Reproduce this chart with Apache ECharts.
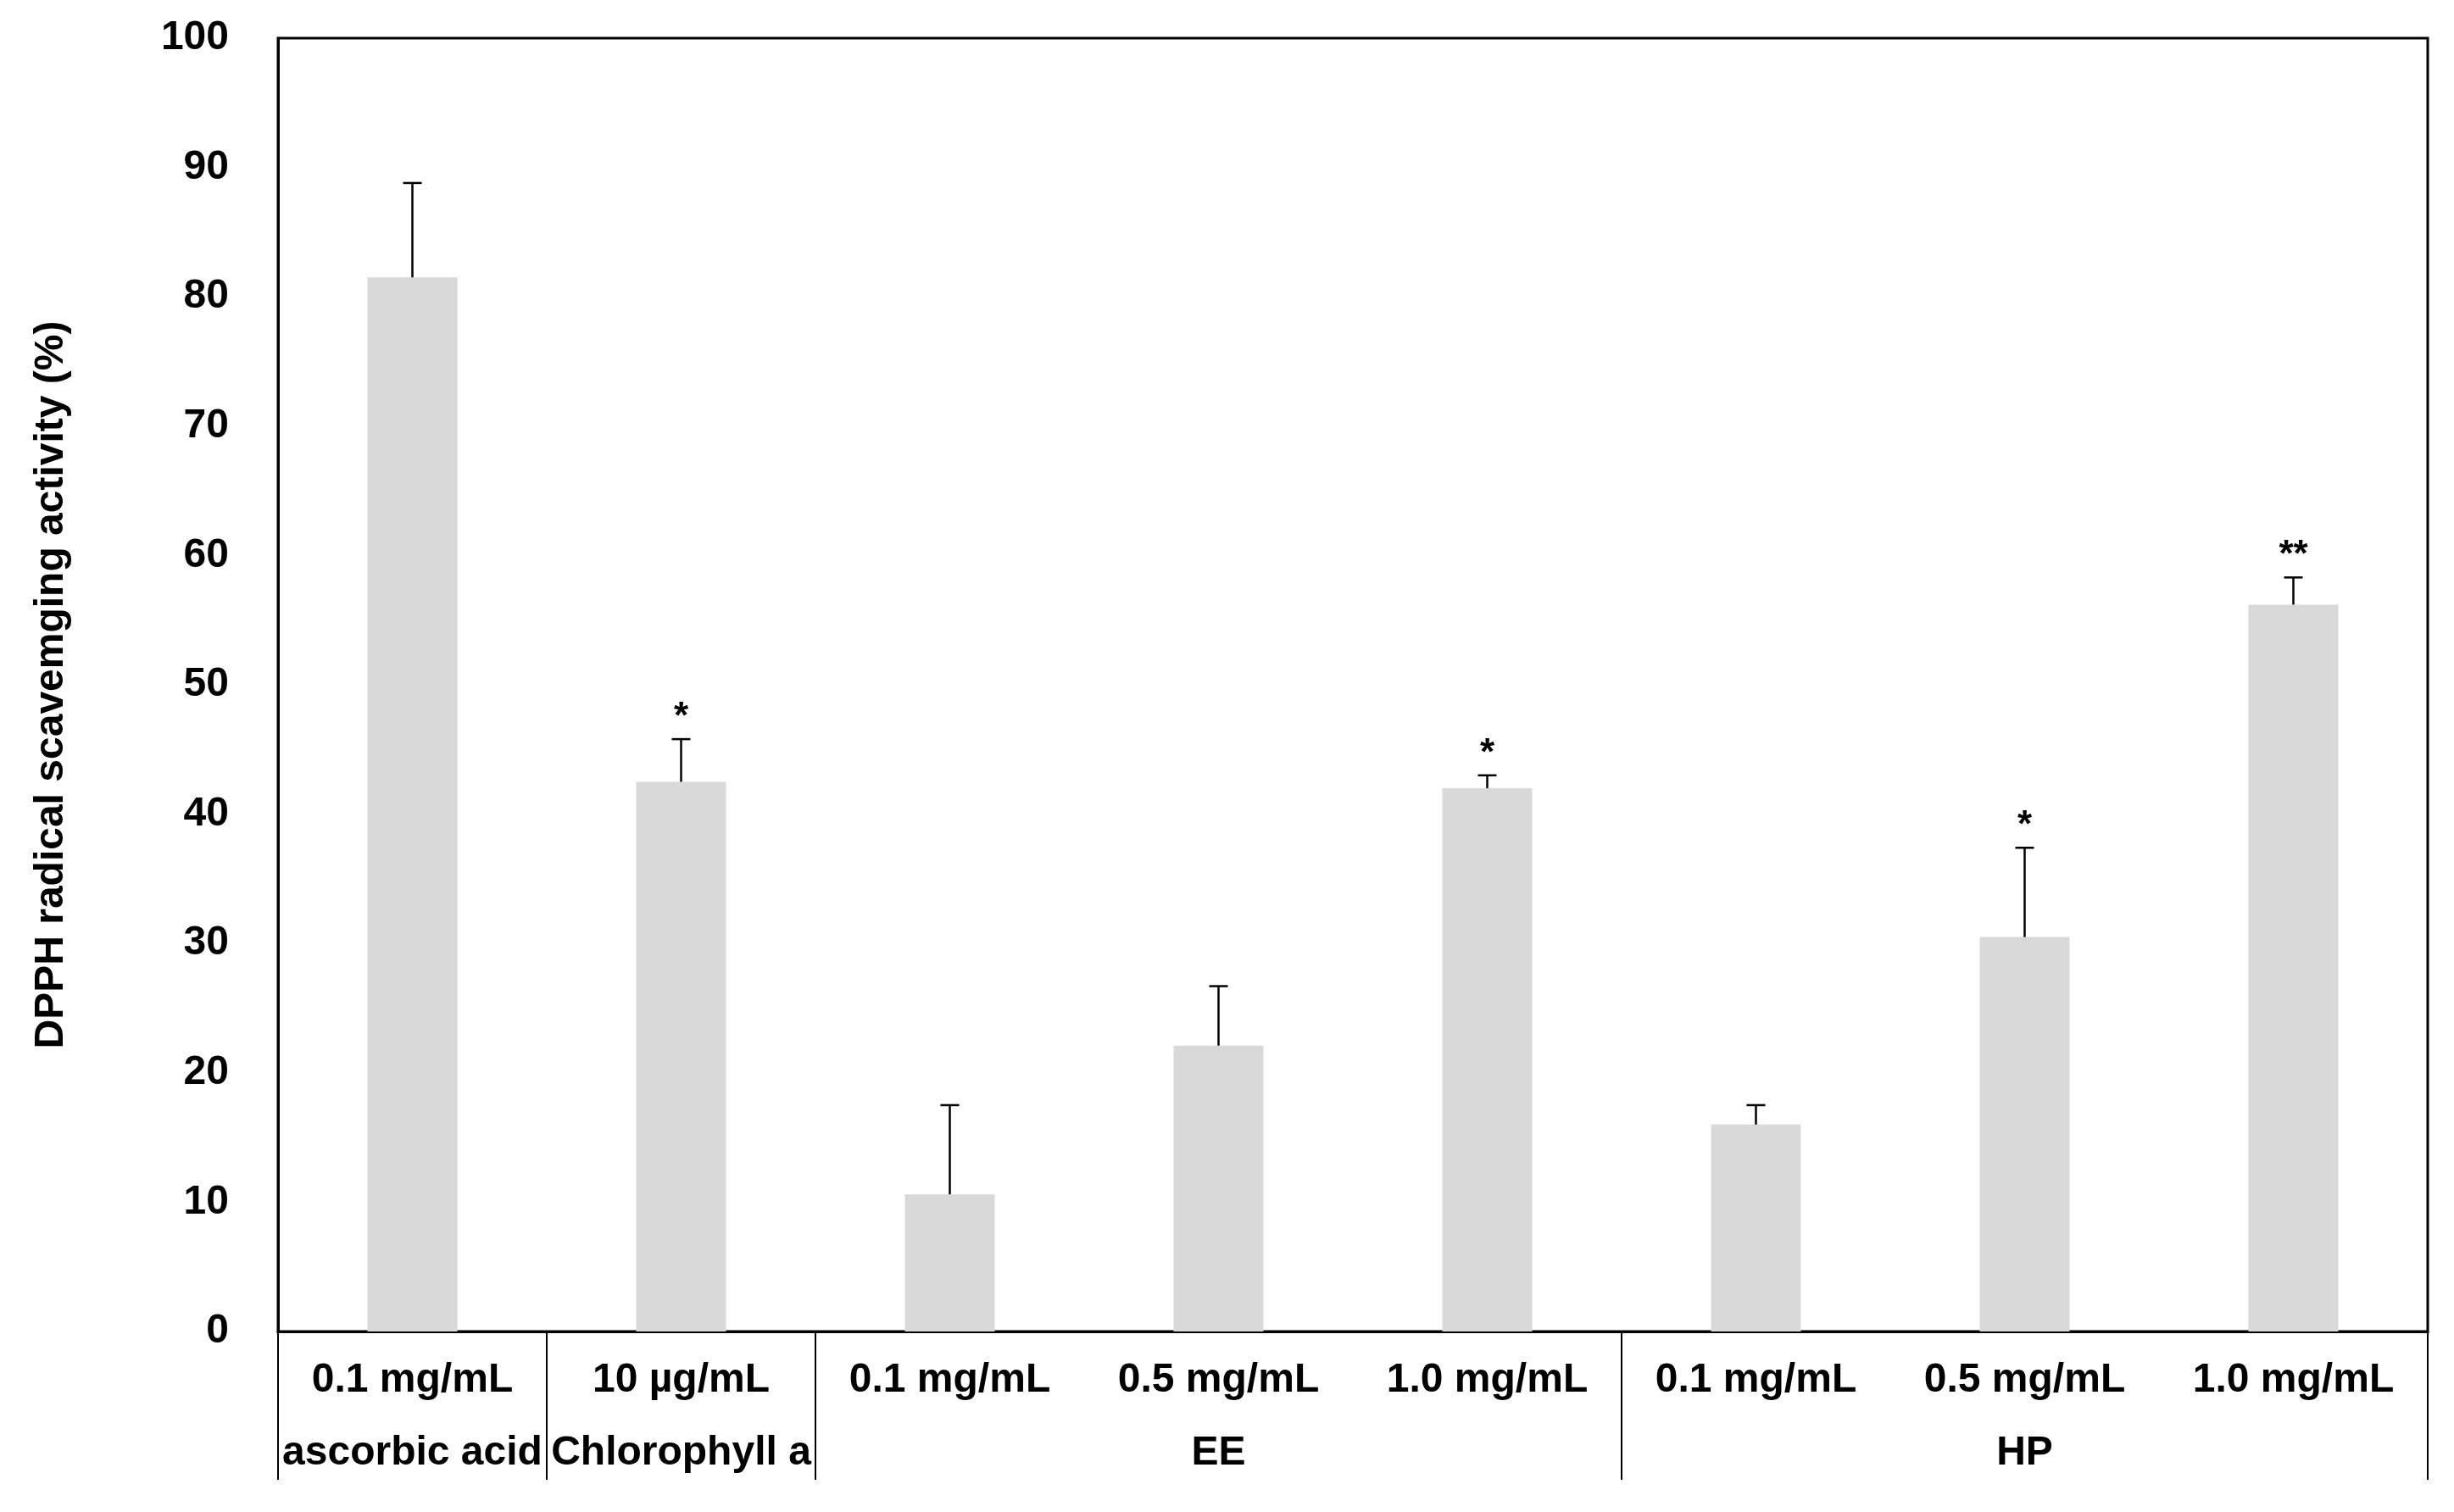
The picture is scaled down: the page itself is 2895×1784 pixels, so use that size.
<!DOCTYPE html>
<html><head><meta charset="utf-8">
<script src="https://cdn.jsdelivr.net/npm/echarts@6/dist/echarts.min.js"></script>
<style>html,body{margin:0;padding:0;background:#fff}#c{width:2895px;height:1784px}</style>
</head><body><div id="c"></div>
<script>
// ---- data ----
const concentrations = ["0.1 mg/mL", "10 µg/mL", "0.1 mg/mL", "0.5 mg/mL", "1.0 mg/mL", "0.1 mg/mL", "0.5 mg/mL", "1.0 mg/mL"];
const groupNames = ["ascorbic acid", "Chlorophyll a", "", "EE", "", "", "HP", ""];
const meanValues = [81.5, 42.5, 10.6, 22.1, 42.0, 16.0, 30.5, 56.2];
const errorTops = [88.8, 45.8, 17.5, 26.7, 43.0, 17.5, 37.4, 58.3];
const significance = ["", "*", "", "", "*", "", "*", "**"];
const groupStarts = [0, 1, 2, 5];
const yMin = 0, yMax = 100, yInterval = 10;
const yTitle = "DPPH radical scavemging activity (%)";

const FONT = "'Liberation Sans', Arial, sans-serif";
const categoryLabels = concentrations.map((c, i) => groupNames[i] ? c + "\n" + groupNames[i] : c);
const errData = meanValues.map((v, i) => [i, v, errorTops[i]]);

const chart = echarts.init(document.getElementById('c'), null, {renderer: 'canvas'});
chart.setOption({
  animation: false,
  backgroundColor: '#fff',
  grid: {
    left: 328, right: 31, top: 45, bottom: 213,
    show: true, borderColor: '#000', borderWidth: 3, backgroundColor: 'transparent',
    containLabel: false, outerBoundsMode: 'none'
  },
  xAxis: {
    type: 'category',
    data: categoryLabels,
    axisLine: {show: true, lineStyle: {color: '#000', width: 3}},
    axisTick: {
      show: true, length: 175,
      interval: (idx) => groupStarts.includes(idx),
      lineStyle: {color: '#000', width: 2}
    },
    axisLabel: {
      interval: 0, color: '#000', fontFamily: FONT, fontSize: 48, fontWeight: 'bold',
      lineHeight: 86, margin: 15
    },
    splitLine: {show: false}
  },
  yAxis: {
    type: 'value', min: yMin, max: yMax, interval: yInterval,
    name: yTitle, nameLocation: 'middle', nameGap: 243,
    nameTextStyle: {color: '#000', fontFamily: FONT, fontSize: 48, fontWeight: 'bold'},
    axisLine: {show: true, lineStyle: {color: '#000', width: 3}},
    axisTick: {show: false},
    axisLabel: {color: '#000', fontFamily: FONT, fontSize: 48, fontWeight: 'bold', margin: 58},
    splitLine: {show: false}
  },
  series: [
    {
      type: 'bar', data: meanValues, barWidth: 106,
      itemStyle: {color: '#d9d9d9'}, z: 1
    },
    {
      type: 'custom', data: errData, z: 5,
      encode: {x: 0, y: [1, 2]},
      renderItem: function (params, api) {
        const x = api.value(0);
        const b = api.coord([x, api.value(1)]);
        const t = api.coord([x, api.value(2)]);
        const half = 11;
        const children = [
          {type: 'line', shape: {x1: b[0], y1: b[1], x2: t[0], y2: t[1]}, style: {stroke: '#000', lineWidth: 2.5}},
          {type: 'line', shape: {x1: t[0] - half, y1: t[1], x2: t[0] + half, y2: t[1]}, style: {stroke: '#000', lineWidth: 2.5}}
        ];
        const sig = significance[params.dataIndex];
        if (sig) {
          children.push({
            type: 'text',
            style: {
              x: t[0], y: t[1] - 25, text: sig, align: 'center', verticalAlign: 'middle',
              fill: '#000', font: 'bold 44px ' + FONT
            }
          });
        }
        return {type: 'group', children: children};
      }
    }
  ]
});
</script></body></html>
